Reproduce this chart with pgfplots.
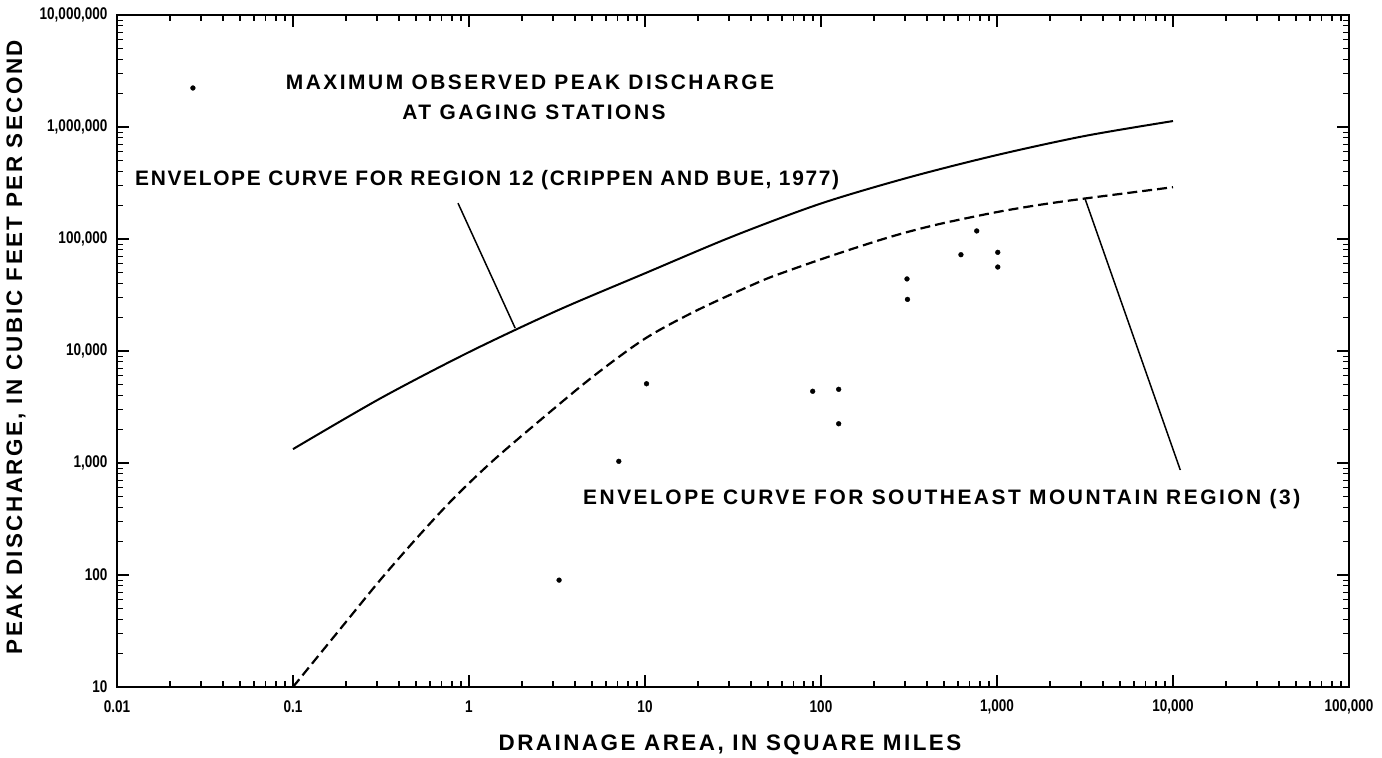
\documentclass[border=0pt]{standalone}
\usepackage{fontspec}
\setmainfont{Liberation Sans}
\newfontfamily\annfont{Liberation Sans}[LetterSpace=8]
\newfontfamily\annfontw{Liberation Sans}[LetterSpace=12]
\newfontfamily\labfont{Liberation Sans}[LetterSpace=11]
\newfontfamily\tickfont{Liberation Sans}[FakeStretch=0.8]
\usepackage{pgfplots}
\pgfplotsset{compat=1.18}
\begin{document}
\begin{tikzpicture}
\path[use as bounding box] (-117bp,-71bp) rectangle (1265bp,687bp);
\begin{axis}[
  at={(0,0)}, anchor=south west,
  scale only axis, width=1232bp, height=672bp,
  xmode=log, ymode=log,
  xmin=0.01, xmax=100000, ymin=10, ymax=10000000,
  xtick={0.01,0.1,1,10,100,1000,10000,100000},
  xticklabels={0.01,0.1,1,10,100,{1,000},{10,000},{100,000}},
  ytick={10,100,1000,10000,100000,1000000,10000000},
  yticklabels={10,100,{1,000},{10,000},{100,000},{1,000,000},{10,000,000}},
  minor xtick={0.02,0.03,0.04,0.05,0.06,0.07,0.08,0.09,
               0.2,0.3,0.4,0.5,0.6,0.7,0.8,0.9,
               2,3,4,5,6,7,8,9,
               20,30,40,50,60,70,80,90,
               200,300,400,500,600,700,800,900,
               2000,3000,4000,5000,6000,7000,8000,9000,
               20000,30000,40000,50000,60000,70000,80000,90000},
  minor ytick={20,30,40,50,60,70,80,90,
               200,300,400,500,600,700,800,900,
               2000,3000,4000,5000,6000,7000,8000,9000,
               20000,30000,40000,50000,60000,70000,80000,90000,
               200000,300000,400000,500000,600000,700000,800000,900000,
               2000000,3000000,4000000,5000000,6000000,7000000,8000000,9000000},
  tick align=inside, tick pos=both,
  major tick length=12bp, minor tick length=6bp,
  every tick/.style={black, line width=1.2bp},
  axis line style={line width=1.6bp},
  xticklabel style={font=\tickfont\bfseries\fontsize{17}{18}\selectfont, anchor=center, yshift=-20bp},
  yticklabel style={font=\tickfont\bfseries\fontsize{17}{18}\selectfont, xshift=-6bp},
  clip=false,
]
% envelope curve, region 12 (solid)
\addplot[black, line width=2bp, smooth] coordinates {
  (0.1,1330) (0.316,3800) (1,9770) (3.16,22900) (10,49400)
  (31.6,105700) (100,207500) (316,355000) (1000,562000)
  (3160,832000) (10000,1130000)
};
% envelope curve, southeast mountain region (dashed)
\addplot[black, line width=2.2bp, dash pattern=on 10bp off 5bp, smooth] coordinates {
  (0.1,10) (0.2,38.1) (0.312,89.7) (0.5,210) (0.815,481) (1.37,1050)
  (2.53,2400) (5,5820) (10,12900) (20,23300) (45,41700) (64,51500)
  (100,65900) (152,82000) (225,99800) (320,117000) (500,139000)
  (1000,174000) (1754,202000) (3160,230000) (10000,290000)
};
% maximum observed peak discharge at gaging stations
\addplot[only marks, mark=*, mark size=2.4bp, black] coordinates {
  (0.027,2230000) (3.25,90) (7.1,1035) (10.2,5100) (89.7,4370)
  (126,4550) (126,2240) (308,44000) (310,28900) (624,72400)
  (767,118000) (1010,76000) (1010,56200)
};
% leader lines
\draw[black, line width=1.5bp] (axis cs:0.866,209000) -- (axis cs:1.83,16000);
\draw[black, line width=1.5bp] (axis cs:3160,230000) -- (axis cs:11000,866);
\end{axis}
\node[font=\labfont\bfseries\fontsize{22.5}{24}\selectfont, inner sep=0] at (613bp,-58bp) {DRAINAGE AREA, IN SQUARE MILES};
\node[font=\labfont\bfseries\fontsize{22.5}{24}\selectfont, inner sep=0, rotate=90] at (-101bp,340bp) {PEAK DISCHARGE, IN CUBIC FEET PER SECOND};
\node[font=\annfontw\bfseries\fontsize{21}{22}\selectfont, inner sep=0] at (413bp,605bp) {MAXIMUM OBSERVED PEAK DISCHARGE};
\node[font=\annfontw\bfseries\fontsize{21}{22}\selectfont, inner sep=0] at (417bp,575bp) {AT GAGING STATIONS};
\node[font=\annfont\bfseries\fontsize{21}{22}\selectfont, inner sep=0, anchor=west] at (18bp,507bp) {ENVELOPE CURVE FOR REGION 12 (CRIPPEN AND BUE, 1977)};
\node[font=\annfontw\bfseries\fontsize{21}{22}\selectfont, inner sep=0, anchor=west] at (466bp,188bp) {ENVELOPE CURVE FOR SOUTHEAST MOUNTAIN REGION (3)};
\end{tikzpicture}
\end{document}
